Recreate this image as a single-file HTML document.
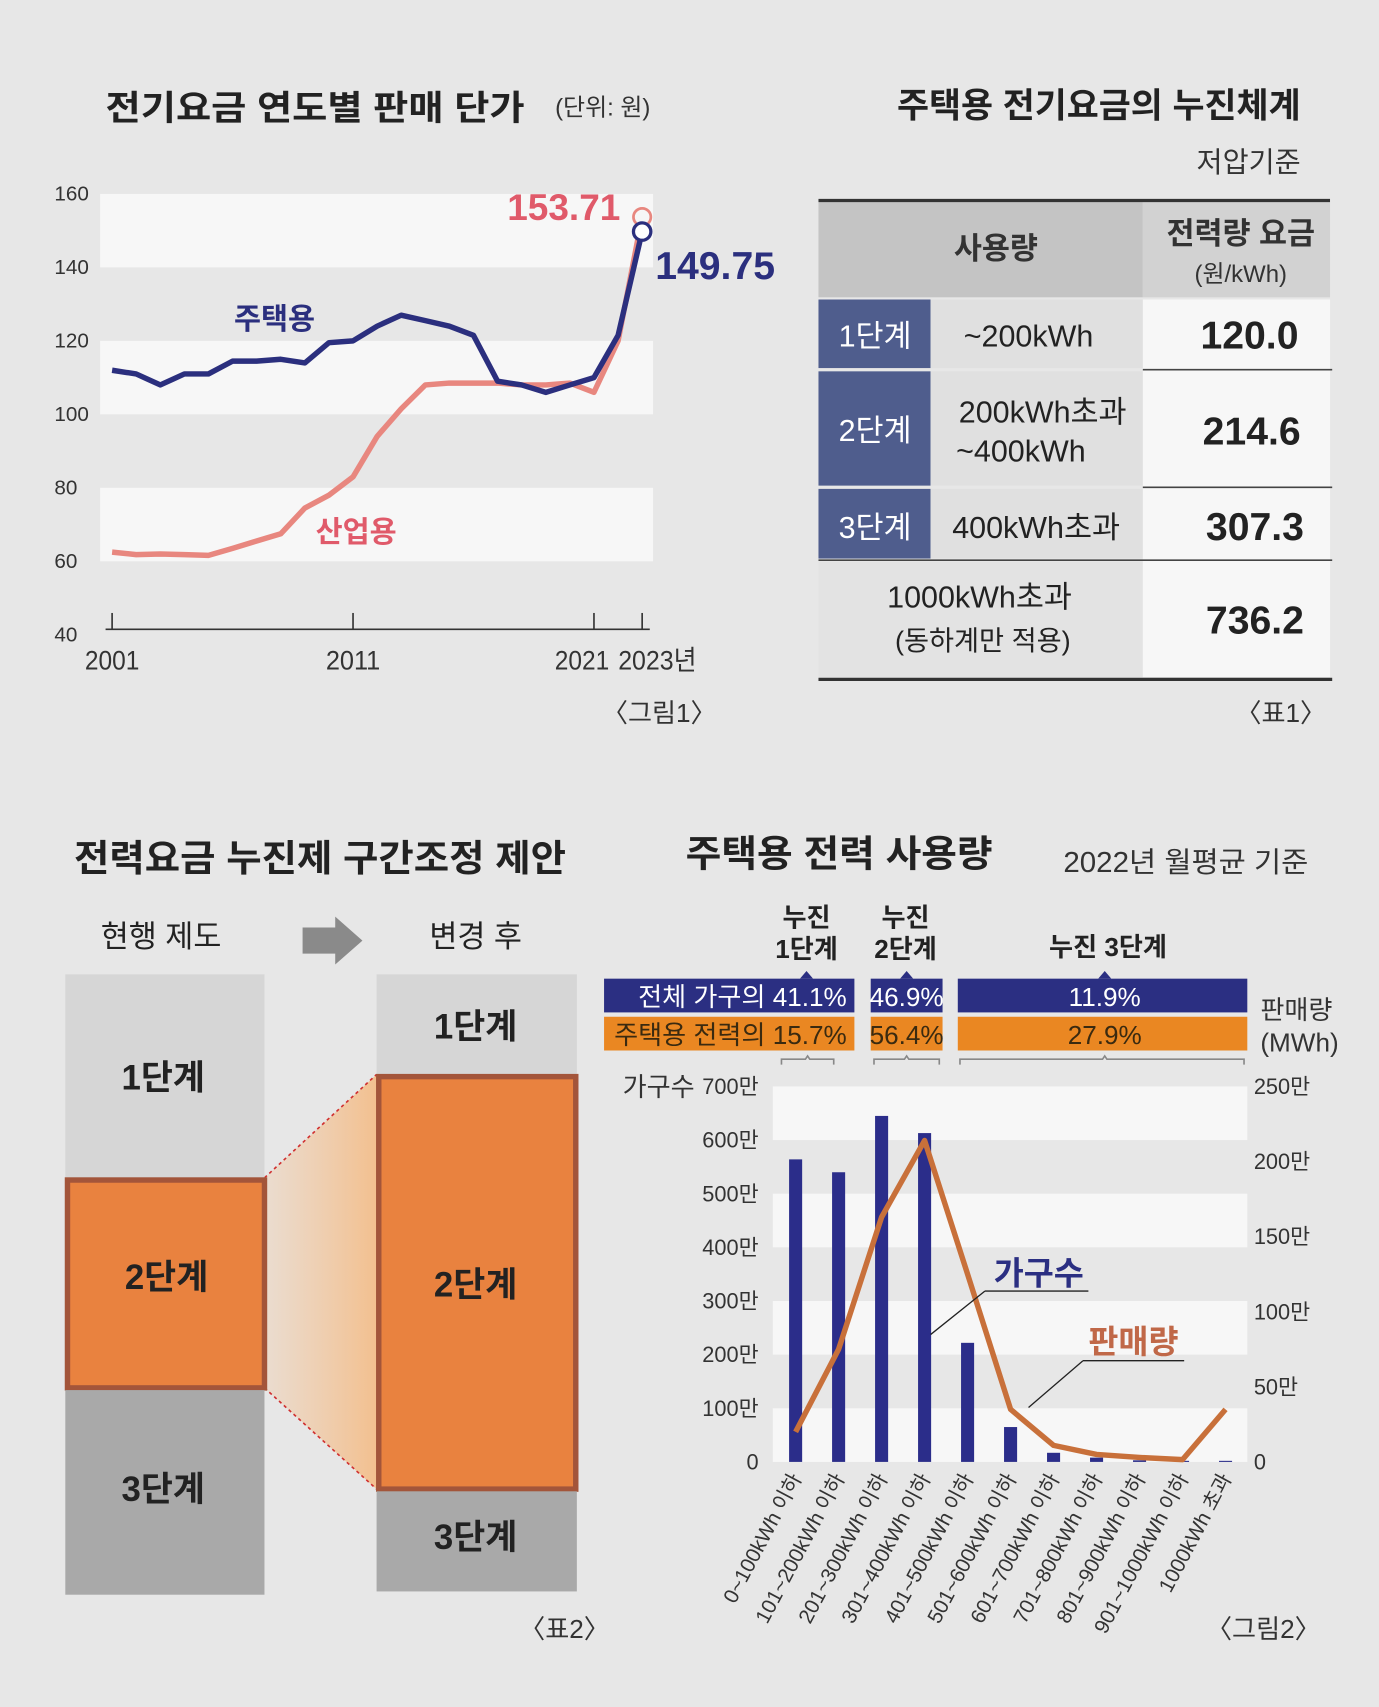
<!DOCTYPE html>
<html><head><meta charset="utf-8"><style>
html,body{margin:0;padding:0;background:#e7e7e7}
svg{display:block}
text{font-family:"Liberation Sans Narrow","Liberation Sans","Noto Sans CJK KR",sans-serif}
.b{font-weight:bold}
</style></head><body>
<svg id="root" width="1379" height="1707" viewBox="0 0 1267 1568" xmlns="http://www.w3.org/2000/svg">
<defs>
<linearGradient id="fan" x1="0" x2="1" y1="0" y2="0"><stop offset="0" stop-color="#f2c49a" stop-opacity="0.3"/><stop offset="1" stop-color="#f3c08f"/></linearGradient>
</defs>
<rect x="0" y="0" width="1267" height="1568" fill="#e7e7e7"/>

<!-- Chart 1 -->
<g id="c1">
<text x="97" y="110" font-size="32" class="b" fill="#222" textLength="385" lengthAdjust="spacingAndGlyphs">전기요금 연도별 판매 단가</text>
<text x="510" y="106" font-size="22" fill="#333">(단위: 원)</text>
<g id="c1bands"></g>
<g id="c1yt"></g>
<line x1="97" y1="578" x2="597" y2="578" stroke="#333" stroke-width="1.5"/>
<g id="c1xt"></g>
<g id="c1lines"></g>
<text x="570" y="202" font-size="34" class="b" fill="#e05a6a" text-anchor="end">153.71</text>
<text x="602" y="256" font-size="36" class="b" fill="#2b2f7e">149.75</text>
<text x="215" y="302" font-size="27" fill="#2b2f7e" class="b">주택용</text>
<text x="290" y="498" font-size="27" fill="#e05a6a" class="b">산업용</text>
<text x="553" y="663" font-size="24" fill="#333">〈그림1〉</text>
</g>

<!-- Table 1 -->
<g>
<text x="1195" y="108" font-size="32" class="b" fill="#222" text-anchor="end">주택용 전기요금의 누진체계</text>
<text x="1195" y="158" font-size="26" fill="#333" text-anchor="end">저압기준</text>
<rect x="752" y="185" width="298" height="88" fill="#c4c4c4"/>
<rect x="1050" y="185" width="172" height="88" fill="#d2d2d2"/>
<line x1="752" y1="184" x2="1222" y2="184" stroke="#333" stroke-width="3"/>
<text x="915" y="238" font-size="28" class="b" fill="#333" text-anchor="middle">사용량</text>
<text x="1140" y="224" font-size="28" class="b" fill="#333" text-anchor="middle">전력량 요금</text>
<text x="1140" y="259" font-size="22" fill="#333" text-anchor="middle">(원/kWh)</text>
<rect x="752" y="275" width="103" height="63" fill="#4f5d8d"/>
<rect x="752" y="341" width="103" height="105" fill="#4f5d8d"/>
<rect x="752" y="449" width="103" height="64" fill="#4f5d8d"/>
<rect x="855" y="275" width="195" height="63" fill="#e0e0e0"/>
<rect x="855" y="341" width="195" height="105" fill="#e0e0e0"/>
<rect x="855" y="449" width="195" height="64" fill="#e0e0e0"/>
<rect x="752" y="516" width="298" height="106" fill="#e3e3e3"/>
<rect x="1050" y="275" width="172" height="347" fill="#f7f7f7"/>
<line x1="1050" y1="339.5" x2="1224" y2="339.5" stroke="#444" stroke-width="1.5"/>
<line x1="1050" y1="447.5" x2="1224" y2="447.5" stroke="#444" stroke-width="1.5"/>
<line x1="752" y1="514.5" x2="1224" y2="514.5" stroke="#444" stroke-width="1.5"/>
<line x1="752" y1="624" x2="1224" y2="624" stroke="#333" stroke-width="3"/>
<g font-size="28" text-anchor="middle">
<text x="804" y="318" fill="#fff">1단계</text>
<text x="804" y="405" fill="#fff">2단계</text>
<text x="804" y="494" fill="#fff">3단계</text>
<text x="945" y="318" fill="#222">~200kWh</text>
<text x="958" y="388" fill="#222">200kWh초과</text>
<text x="938" y="424" fill="#222">~400kWh</text>
<text x="952" y="494" fill="#222">400kWh초과</text>
<text x="900" y="558" fill="#222">1000kWh초과</text>
<text x="903" y="597" font-size="25" fill="#222">(동하계만 적용)</text>
</g>
<g font-size="36" class="b" fill="#222" text-anchor="middle">
<text x="1148" y="320">120.0</text>
<text x="1150" y="408">214.6</text>
<text x="1153" y="496">307.3</text>
<text x="1153" y="582">736.2</text>
</g>
<text x="1135" y="663" font-size="24" fill="#333">〈표1〉</text>
</g>

<!-- Table 2 -->
<g>
<text x="68" y="800" font-size="34" class="b" fill="#222" textLength="452" lengthAdjust="spacingAndGlyphs">전력요금 누진제 구간조정 제안</text>
<text x="148" y="870" font-size="28" fill="#222" text-anchor="middle">현행 제도</text>
<path d="M278 852 H308 V842 L333 864 L308 886 V876 H278 Z" fill="#8a8a8a"/>
<text x="437" y="870" font-size="28" fill="#222" text-anchor="middle">변경 후</text>
<polygon points="243,1082 346,987 346,1368 243,1275" fill="url(#fan)"/>
<line x1="243" y1="1082" x2="346" y2="987" stroke="#d03030" stroke-width="1.5" stroke-dasharray="3,3"/>
<line x1="243" y1="1275" x2="346" y2="1368" stroke="#d03030" stroke-width="1.5" stroke-dasharray="3,3"/>
<rect x="60" y="895" width="183" height="187" fill="#d6d6d6"/>
<rect x="62" y="1084" width="181" height="191" fill="#e9823f" stroke="#a3553a" stroke-width="5"/>
<rect x="60" y="1277" width="183" height="188" fill="#a9a9a9"/>
<rect x="346" y="895" width="184" height="92" fill="#d6d6d6"/>
<rect x="348" y="989" width="181" height="379" fill="#e9823f" stroke="#a3553a" stroke-width="5"/>
<rect x="346" y="1370" width="184" height="92" fill="#a9a9a9"/>
<g font-size="32" class="b" fill="#222" text-anchor="middle">
<text x="150" y="1001">1단계</text>
<text x="153" y="1184">2단계</text>
<text x="150" y="1379">3단계</text>
<text x="437" y="954">1단계</text>
<text x="437" y="1191">2단계</text>
<text x="437" y="1423">3단계</text>
</g>
<text x="477" y="1505" font-size="24" fill="#333">〈표2〉</text>
</g>

<!-- Chart 2 -->
<g>
<text x="630" y="796" font-size="34" class="b" fill="#222" textLength="282" lengthAdjust="spacingAndGlyphs">주택용 전력 사용량</text>
<text x="977" y="801" font-size="26" fill="#333" textLength="225" lengthAdjust="spacingAndGlyphs">2022년 월평균 기준</text>
<g font-size="24" class="b" fill="#222" text-anchor="middle">
<text x="741" y="851">누진</text>
<text x="741" y="880">1단계</text>
<text x="832" y="851">누진</text>
<text x="832" y="880">2단계</text>
<text x="1018" y="878">누진 3단계</text>
</g>
<rect x="555" y="899" width="230" height="31" fill="#2b2f82"/>
<rect x="800" y="899" width="66" height="31" fill="#2b2f82"/>
<rect x="880" y="899" width="266" height="31" fill="#2b2f82"/>
<rect x="555" y="934" width="230" height="31" fill="#ea8722"/>
<rect x="800" y="934" width="66" height="31" fill="#ea8722"/>
<rect x="880" y="934" width="266" height="31" fill="#ea8722"/>
<path d="M735 899 l6 -7 l6 7 Z M827 899 l6 -7 l6 7 Z M1009 899 l6 -7 l6 7 Z" fill="#2b2f82"/>
<g font-size="24" text-anchor="middle">
<text x="778" y="924" fill="#fff" text-anchor="end">전체 가구의 41.1%</text>
<text x="833" y="924" fill="#fff">46.9%</text>
<text x="1015" y="924" fill="#fff">11.9%</text>
<text x="778" y="959" fill="#3a2a10" text-anchor="end">주택용 전력의 15.7%</text>
<text x="833" y="959" fill="#3a2a10">56.4%</text>
<text x="1015" y="959" fill="#3a2a10">27.9%</text>
</g>
<path d="M718 978 v-5 h22 l2 -3 l2 3 h22 v5 M803 978 v-5 h28 l2 -3 l2 3 h28 v5 M882 978 v-5 h131 l2 -3 l2 3 h126 v5" fill="none" stroke="#888" stroke-width="1.5"/>
<text x="572" y="1007" font-size="24" fill="#333">가구수</text>
<text x="1158" y="936" font-size="24" fill="#333">판매량</text>
<text x="1158" y="966" font-size="24" fill="#333">(MWh)</text>
<g id="c2bands"></g>
<g id="c2ticks"></g>
<g id="c2bars"></g>
<g id="c2line"></g>
<g id="c2cats"></g>
<text x="913" y="1180" font-size="30" class="b" fill="#2b2f82">가구수</text>
<path d="M905 1186 H1000 M905 1186 L855 1226" stroke="#222" stroke-width="1.2" fill="none"/>
<text x="1000" y="1243" font-size="30" class="b" fill="#c06848">판매량</text>
<path d="M995 1250 H1088 M995 1250 L945 1293" stroke="#222" stroke-width="1.2" fill="none"/>
<text x="1108" y="1505" font-size="24" fill="#333">〈그림2〉</text>
</g>
</svg>
<script>
// Chart 1 data
const years = [2001,2002,2003,2004,2005,2006,2007,2008,2009,2010,2011,2012,2013,2014,2015,2016,2017,2018,2019,2020,2021,2022,2023];
const residential = [112,111,108,111,111,114.5,114.5,115,114,119.5,120,124,127,125.5,124,121.5,109,108,106,108,110,121.5,149.75];
const industrial = [62.5,61.8,62,61.8,61.6,63.5,65.5,67.5,74.5,78,83,94,101.5,108,108.5,108.5,108.5,108,108,108.5,106,120,153.71];
const c1Ticks = [40,60,80,100,120,140,160];
const c1XTicks = [2001,2011,2021,2023];
const c1XLabels = ["2001","2011","2021","2023년"];

// Chart 2 data
const categories = ["0~100kWh 이하","101~200kWh 이하","201~300kWh 이하","301~400kWh 이하","401~500kWh 이하","501~600kWh 이하","601~700kWh 이하","701~800kWh 이하","801~900kWh 이하","901~1000kWh 이하","1000kWh 초과"];
const households = [564,540,645,613,222,65,17,8,3,2,2];
const sales = [20,75,163,214,125,35,11,5,3,1.5,35];
const leftTicks = [0,100,200,300,400,500,600,700];
const rightTicks = [0,50,100,150,200,250];

const NS = "http://www.w3.org/2000/svg";
function mk(tag, attrs, parent, txt){const e=document.createElementNS(NS,tag);for(const k in attrs)e.setAttribute(k,attrs[k]);if(txt!==undefined)e.textContent=txt;parent.appendChild(e);return e;}

// chart 1 scales
const x1 = y => 103 + (y-2001)*(590-103)/22;
const y1 = v => 583 - (v-40)*3.375;
const bands1 = document.getElementById('c1bands');
[[140,160],[100,120],[60,80]].forEach(b=>{
  const r = mk('rect',{x:92,y:y1(b[1]),width:508,height:y1(b[0])-y1(b[1]),fill:'#f7f7f7'},bands1);
  
  
});
const yt1 = document.getElementById('c1yt');
c1Ticks.forEach(t=>{
  const e = mk('text',{x:50,y:y1(t)+6,'font-size':19,fill:'#333'},yt1,String(t));
  
  
});
const xt1 = document.getElementById('c1xt');
c1XTicks.forEach((t,i)=>{
  const l = mk('line',{x1:x1(t),x2:x1(t),y1:563,y2:578,stroke:'#333','stroke-width':1.5},xt1);
  
  
  const anchor = i===0?'start':(i===3?'start':(i===2?'end':'middle'));
  const xx = i===0?78:(i===3?x1(t)-22:(i===2?x1(t)+14:x1(t)));
  const e = mk('text',{x:xx,y:615,'font-size':25,fill:'#333','text-anchor':anchor,textLength:(i===3?72:50),lengthAdjust:'spacingAndGlyphs'},xt1,c1XLabels[i]);
  
  
});
const lines1 = document.getElementById('c1lines');
function series(vals,color,w,name){
  const d = vals.map((v,i)=>(i?'L':'M')+x1(years[i]).toFixed(1)+' '+y1(v).toFixed(1)).join(' ');
  const p = mk('path',{d:d,fill:'none',stroke:color,'stroke-width':w,'stroke-linejoin':'round'},lines1);
  
  
}
series(industrial,'#e8877f',5,'industrial-line');
series(residential,'#2b2f7e',5,'residential-line');
const li = years.length-1;
const ci = mk('circle',{cx:x1(years[li]),cy:y1(industrial[li]),r:8,fill:'#f6f6f6',stroke:'#e8877f','stroke-width':2.5},lines1);


const cr = mk('circle',{cx:x1(years[li]),cy:y1(residential[li]),r:8,fill:'#fff',stroke:'#2b2f7e','stroke-width':3},lines1);



// chart 2 scales
const y0 = 1343;
const yL = v => y0 - v*(1343-998)/700;
const yR = v => y0 - v*(1343-998)/250;
const xc = i => 731 + i*39.5;
const bands2 = document.getElementById('c2bands');
[[600,700],[400,500],[200,300],[0,100]].forEach(b=>{
  const r = mk('rect',{x:710,y:yL(b[1]),width:436,height:yL(b[0])-yL(b[1]),fill:'#f7f7f7'},bands2);
  
  
});
const tk2 = document.getElementById('c2ticks');
leftTicks.forEach(t=>{
  const e = mk('text',{x:697,y:yL(t)+7,'font-size':20,fill:'#333','text-anchor':'end'},tk2,t===0?'0':t+'만');
  
  
});
rightTicks.forEach(t=>{
  const e = mk('text',{x:1152,y:yR(t)+7,'font-size':20,fill:'#333'},tk2,t===0?'0':t+'만');
  
  
});
const bars = document.getElementById('c2bars');
households.forEach((v,i)=>{
  const r = mk('rect',{x:xc(i)-6,y:yL(v),width:12,height:y0-yL(v),fill:'#2b2d8a'},bars);
  
  
});
const ln = document.getElementById('c2line');
const d2 = sales.map((v,i)=>(i?'L':'M')+xc(i).toFixed(1)+' '+yR(v).toFixed(1)).join(' ');
const sp = mk('path',{d:d2,fill:'none',stroke:'#c8703a','stroke-width':5,'stroke-linejoin':'round'},ln);


const cats = document.getElementById('c2cats');
categories.forEach((c,i)=>{
  const x = xc(i)+6, y = 1358;
  const e = mk('text',{x:x,y:y,'font-size':19,fill:'#333','text-anchor':'end',transform:`rotate(-62 ${x} ${y})`},cats,c);
  
  
});
</script>
</body></html>
